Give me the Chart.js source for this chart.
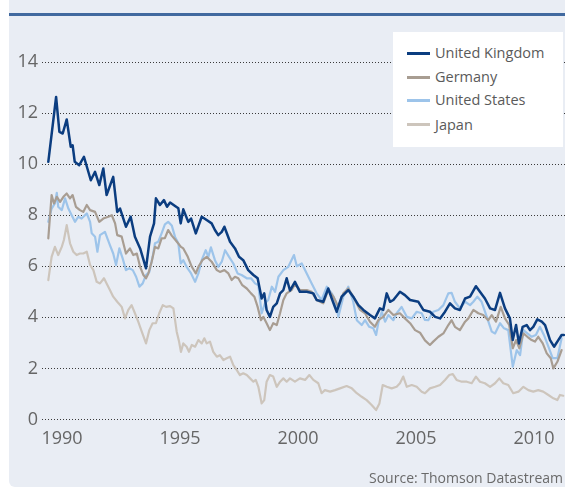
<!DOCTYPE html>
<html><head><meta charset="utf-8">
<script src="https://cdn.jsdelivr.net/npm/chart.js@4.4.0/dist/chart.umd.min.js"></script>
<style>
html,body{margin:0;padding:0;background:#fff;}
#wrap{position:relative;width:565px;height:488px;overflow:hidden;font-family:'Open Sans',sans-serif;}
#panel{position:absolute;left:9px;top:0;width:556px;height:487px;background:#e9edf4;border-bottom-left-radius:6px;}
#rule{position:absolute;left:9px;top:13px;width:556px;height:3px;background:#41699f;}
#c{position:absolute;left:0;top:0;}
#legend{position:absolute;left:393px;top:32px;width:170px;height:115px;background:#fff;}
.sw{position:absolute;left:14px;width:23px;height:3px;}
.lt{position:absolute;left:42px;height:20px;line-height:20px;font-size:14.5px;color:#5a5a5a;white-space:nowrap;}
#source{position:absolute;right:2px;top:468px;font-size:14px;color:#6a6a6a;white-space:nowrap;}
</style></head>
<body>
<div id="wrap">
  <div id="panel"></div>
  <div id="rule"></div>
  <canvas id="c" width="565" height="488"></canvas>
  <div id="legend"></div>
  <div id="source">Source: Thomson Datastream</div>
</div>
<script>
const seriesNames = ['United Kingdom','Germany','United States','Japan'];
const seriesColors = ['#0b3d80','#a89d92','#9dc4ea','#cdc5bc'];
const yTicks = [0,2,4,6,8,10,12,14];
const xTicks = [1990,1995,2000,2005,2010];

const ukSeries = [[1989.42,10.09],[1989.75,12.63],[1989.89,11.26],[1990.03,11.2],[1990.20,11.75],[1990.37,10.68],[1990.45,10.74],[1990.54,10.09],[1990.73,9.96],[1990.93,10.29],[1991.22,9.37],[1991.40,9.7],[1991.58,9.18],[1991.75,9.83],[1991.89,8.79],[1992.17,9.5],[1992.34,8.13],[1992.46,8.26],[1992.71,7.55],[1992.91,7.94],[1993.09,7.16],[1993.31,6.7],[1993.56,5.92],[1993.73,7.16],[1993.90,7.68],[1993.98,8.66],[1994.15,8.4],[1994.32,8.59],[1994.45,8.33],[1994.58,8.5],[1994.79,8.36],[1994.93,8.27],[1995.03,7.68],[1995.14,8.23],[1995.35,7.74],[1995.47,7.87],[1995.67,7.29],[1995.92,7.94],[1996.13,7.81],[1996.34,7.68],[1996.48,7.42],[1996.62,7.22],[1996.77,7.35],[1996.88,7.55],[1997.12,6.96],[1997.33,6.7],[1997.50,6.37],[1997.68,6.24],[1997.89,5.85],[1998.11,5.66],[1998.29,5.53],[1998.46,4.74],[1998.57,4.94],[1998.67,4.29],[1998.81,4.02],[1998.95,4.41],[1999.10,4.55],[1999.24,4.94],[1999.38,5.07],[1999.52,5.53],[1999.66,5.05],[1999.87,5.39],[2000.08,5.0],[2000.37,5.0],[2000.65,4.94],[2000.79,4.68],[2001.07,4.61],[2001.28,5.13],[2001.43,4.74],[2001.64,4.22],[2001.85,4.81],[2002.13,5.07],[2002.34,4.81],[2002.56,4.48],[2002.77,4.29],[2003.05,4.09],[2003.26,3.96],[2003.47,4.35],[2003.61,4.29],[2003.76,4.94],[2003.90,4.61],[2004.04,4.68],[2004.32,5.0],[2004.53,4.87],[2004.75,4.68],[2005.10,4.61],[2005.31,4.29],[2005.59,4.22],[2005.81,4.02],[2006.02,3.96],[2006.23,4.22],[2006.44,4.55],[2006.65,4.35],[2006.86,4.29],[2007.08,4.74],[2007.29,4.81],[2007.54,5.22],[2007.71,5.0],[2007.92,4.74],[2008.14,4.35],[2008.35,4.29],[2008.56,4.96],[2008.77,4.35],[2008.98,3.96],[2009.10,3.11],[2009.24,3.7],[2009.36,2.98],[2009.52,3.63],[2009.69,3.7],[2009.83,3.5],[2009.97,3.63],[2010.14,3.92],[2010.33,3.83],[2010.47,3.7],[2010.68,3.11],[2010.85,2.85],[2011.03,3.11],[2011.17,3.31],[2011.27,3.31]];

const germanySeries = [[1989.42,7.09],[1989.56,8.79],[1989.66,8.46],[1989.78,8.72],[1989.92,8.52],[1990.06,8.72],[1990.20,8.85],[1990.34,8.66],[1990.45,8.79],[1990.59,8.33],[1990.76,8.2],[1990.90,8.13],[1991.05,8.4],[1991.19,8.2],[1991.40,8.13],[1991.58,7.74],[1991.75,7.87],[1991.96,7.94],[1992.11,8.0],[1992.25,7.68],[1992.34,7.22],[1992.53,7.16],[1992.71,6.5],[1992.88,6.7],[1993.02,6.44],[1993.17,6.5],[1993.31,5.98],[1993.45,5.66],[1993.56,5.53],[1993.66,5.72],[1993.80,6.18],[1993.94,6.76],[1994.08,6.7],[1994.22,7.09],[1994.36,7.1],[1994.50,7.42],[1994.65,7.2],[1994.79,7.05],[1995.04,6.76],[1995.14,6.7],[1995.33,6.37],[1995.50,5.98],[1995.67,5.72],[1995.78,5.98],[1995.95,6.24],[1996.13,6.37],[1996.34,6.18],[1996.56,5.85],[1996.69,5.78],[1996.88,5.85],[1997.05,5.72],[1997.19,5.46],[1997.33,5.59],[1997.47,5.53],[1997.64,5.26],[1997.83,5.13],[1998.01,4.94],[1998.15,4.81],[1998.29,4.41],[1998.43,3.89],[1998.53,4.02],[1998.67,3.77],[1998.81,3.5],[1998.95,3.77],[1999.10,3.7],[1999.24,4.16],[1999.38,4.68],[1999.52,4.94],[1999.73,5.07],[1999.87,5.3],[2000.08,5.07],[2000.37,5.07],[2000.58,5.0],[2000.79,4.68],[2001.07,4.55],[2001.28,5.07],[2001.50,4.81],[2001.71,4.41],[2001.92,4.94],[2002.13,5.13],[2002.34,4.81],[2002.63,4.29],[2002.84,4.16],[2003.05,3.83],[2003.26,3.63],[2003.40,3.89],[2003.61,4.02],[2003.83,4.29],[2004.04,4.09],[2004.32,4.16],[2004.53,3.96],[2004.75,3.77],[2004.96,3.5],[2005.17,3.4],[2005.38,3.1],[2005.59,2.92],[2005.73,3.05],[2005.95,3.24],[2006.16,3.37],[2006.37,3.7],[2006.51,3.89],[2006.65,3.63],[2006.86,3.5],[2007.08,3.83],[2007.22,3.96],[2007.43,4.29],[2007.64,4.16],[2007.85,4.09],[2008.06,3.89],[2008.21,4.09],[2008.39,3.83],[2008.59,4.41],[2008.77,3.96],[2008.95,3.7],[2009.10,2.79],[2009.24,3.11],[2009.38,2.79],[2009.55,3.37],[2009.72,3.24],[2009.90,3.11],[2010.04,3.05],[2010.18,3.24],[2010.37,2.98],[2010.54,2.59],[2010.71,2.4],[2010.82,2.0],[2010.99,2.26],[2011.17,2.72]];

const usSeries = [[1989.42,7.74],[1989.56,8.26],[1989.70,8.46],[1989.78,8.88],[1989.84,8.33],[1989.99,8.2],[1990.13,8.66],[1990.27,8.26],[1990.41,8.0],[1990.55,7.74],[1990.69,7.94],[1990.83,7.87],[1991.05,8.07],[1991.19,7.74],[1991.26,7.29],[1991.40,7.16],[1991.50,6.57],[1991.61,7.22],[1991.82,7.35],[1992.03,6.83],[1992.17,6.5],[1992.29,6.05],[1992.43,6.7],[1992.57,6.31],[1992.71,5.85],[1992.85,5.92],[1993.00,5.85],[1993.14,5.59],[1993.28,5.2],[1993.42,5.33],[1993.56,5.66],[1993.70,5.78],[1993.84,6.37],[1993.94,6.9],[1994.08,6.96],[1994.22,7.29],[1994.36,7.64],[1994.50,7.74],[1994.65,7.6],[1994.79,7.15],[1994.93,6.9],[1995.03,6.11],[1995.14,6.24],[1995.28,5.98],[1995.47,5.72],[1995.64,5.39],[1995.78,5.72],[1995.92,6.24],[1996.09,6.63],[1996.20,6.37],[1996.31,6.74],[1996.48,6.24],[1996.62,5.98],[1996.77,6.18],[1996.91,6.63],[1997.08,6.37],[1997.26,6.11],[1997.44,5.72],[1997.61,5.66],[1997.83,5.53],[1998.01,5.53],[1998.18,5.33],[1998.32,5.26],[1998.46,4.16],[1998.60,4.55],[1998.74,4.68],[1998.89,5.2],[1999.03,5.0],[1999.17,5.59],[1999.38,5.85],[1999.59,5.98],[1999.83,6.44],[1999.95,6.0],[2000.16,6.11],[2000.37,5.72],[2000.58,5.33],[2000.79,4.94],[2001.00,4.68],[2001.22,5.2],[2001.43,4.94],[2001.57,4.68],[2001.71,4.02],[2001.92,4.81],[2002.13,5.2],[2002.34,4.61],[2002.49,3.89],[2002.70,3.7],[2002.84,3.89],[2003.02,3.63],[2003.19,3.57],[2003.31,3.31],[2003.40,3.77],[2003.55,4.22],[2003.69,3.83],[2003.83,4.09],[2004.04,3.89],[2004.18,4.16],[2004.39,4.41],[2004.61,4.02],[2004.82,3.96],[2005.03,4.22],[2005.24,4.16],[2005.38,3.9],[2005.52,3.89],[2005.73,4.22],[2005.95,4.29],[2006.16,4.48],[2006.37,4.94],[2006.51,4.96],[2006.65,4.61],[2006.86,4.35],[2007.08,4.61],[2007.29,4.48],[2007.43,4.61],[2007.60,4.81],[2007.78,4.61],[2008.00,4.02],[2008.21,3.44],[2008.35,3.37],[2008.56,3.77],[2008.73,3.57],[2008.91,3.5],[2009.10,2.07],[2009.27,2.72],[2009.41,2.52],[2009.55,3.5],[2009.72,3.37],[2009.90,3.24],[2010.08,3.31],[2010.25,3.63],[2010.42,3.31],[2010.61,2.85],[2010.79,2.4],[2010.99,2.4],[2011.17,3.18]];

const japanSeries = [[1989.42,5.46],[1989.56,6.37],[1989.70,6.76],[1989.84,6.44],[1989.99,6.76],[1990.08,7.03],[1990.20,7.61],[1990.34,6.9],[1990.48,6.57],[1990.62,6.44],[1990.76,6.5],[1990.90,6.5],[1991.05,6.57],[1991.19,6.05],[1991.33,5.85],[1991.47,5.39],[1991.61,5.33],[1991.78,5.53],[1991.89,5.33],[1992.03,5.07],[1992.17,4.81],[1992.34,4.61],[1992.53,4.41],[1992.67,3.96],[1992.81,4.29],[1992.95,4.48],[1993.09,4.16],[1993.23,3.83],[1993.38,3.44],[1993.56,2.98],[1993.70,3.5],[1993.84,3.77],[1993.98,3.77],[1994.12,4.16],[1994.27,4.48],[1994.41,4.41],[1994.58,4.44],[1994.72,4.35],[1994.86,3.44],[1994.96,3.05],[1995.04,2.65],[1995.14,2.98],[1995.28,2.85],[1995.38,2.65],[1995.50,2.92],[1995.64,2.85],[1995.78,3.11],[1995.92,2.98],[1996.03,3.18],[1996.13,2.98],[1996.27,3.05],[1996.41,2.65],[1996.56,2.46],[1996.69,2.52],[1996.84,2.33],[1996.98,2.4],[1997.12,2.46],[1997.26,2.13],[1997.40,1.94],[1997.54,1.74],[1997.68,1.81],[1997.83,1.74],[1997.97,1.61],[1998.11,1.48],[1998.21,1.55],[1998.32,1.28],[1998.46,0.63],[1998.57,0.76],[1998.67,1.48],[1998.81,1.74],[1998.95,1.68],[1999.10,1.28],[1999.24,1.48],[1999.38,1.61],[1999.52,1.48],[1999.66,1.61],[1999.87,1.48],[2000.08,1.61],[2000.30,1.55],[2000.48,1.74],[2000.65,1.55],[2000.86,1.42],[2001.00,1.03],[2001.14,1.15],[2001.36,1.09],[2001.57,1.15],[2001.78,1.22],[2002.06,1.31],[2002.28,1.22],[2002.49,1.03],[2002.70,0.89],[2002.91,0.76],[2003.12,0.57],[2003.31,0.37],[2003.45,0.63],[2003.59,1.35],[2003.76,1.28],[2003.97,1.22],[2004.18,1.28],[2004.32,1.42],[2004.46,1.68],[2004.61,1.28],[2004.82,1.35],[2005.03,1.28],[2005.24,1.09],[2005.38,1.03],[2005.59,1.22],[2005.81,1.28],[2006.02,1.35],[2006.23,1.55],[2006.41,1.74],[2006.56,1.78],[2006.72,1.55],[2006.94,1.48],[2007.15,1.48],[2007.36,1.42],[2007.54,1.68],[2007.71,1.48],[2007.92,1.42],[2008.14,1.28],[2008.35,1.42],[2008.53,1.61],[2008.70,1.42],[2008.91,1.35],[2009.12,1.03],[2009.34,1.09],[2009.55,1.28],[2009.76,1.15],[2009.97,1.09],[2010.18,1.15],[2010.39,1.09],[2010.61,0.96],[2010.82,0.83],[2010.99,0.76],[2011.10,0.96],[2011.24,0.93]];

const allSeries = [ukSeries, germanySeries, usSeries, japanSeries];
const lineWidths = [2.5, 2.2, 2.2, 2.2];

// legend
const lg = document.getElementById('legend');
const centers = [21, 45, 68, 92.5];
seriesNames.forEach((n, i) => {
  const s = document.createElement('div'); s.className = 'sw';
  s.style.top = (centers[i] - 1.5) + 'px'; s.style.background = seriesColors[i];
  const t = document.createElement('div'); t.className = 'lt';
  t.style.top = (centers[i] - 10) + 'px'; t.textContent = n;
  lg.appendChild(s); lg.appendChild(t);
});

const font = { family: "'Open Sans', sans-serif", size: 18 };
new Chart(document.getElementById('c'), {
  type: 'line',
  data: {
    datasets: allSeries.map((s, i) => ({
      label: seriesNames[i],
      data: s.map(p => ({ x: p[0], y: p[1] })),
      borderColor: seriesColors[i],
      borderWidth: lineWidths[i],
      pointRadius: 0,
      tension: 0,
      fill: false
    }))
  },
  options: {
    responsive: false,
    animation: false,
    events: [],
    layout: { padding: { top: 62, right: 0, bottom: 0, left: 0 } },
    plugins: { legend: { display: false }, tooltip: { enabled: false } },
    elements: { line: { borderJoinStyle: 'round', borderCapStyle: 'round' } },
    scales: {
      x: {
        type: 'linear', min: 1989.1525, max: 2011.3136,
        afterBuildTicks: a => { a.ticks = xTicks.map(v => ({ value: v })); },
        afterFit: a => { a.height = 68.5; },
        grid: { display: false, drawTicks: false },
        border: { display: false },
        ticks: { padding: 9, color: '#666', font: font, maxRotation: 0, autoSkip: false, callback: v => String(v) }
      },
      y: {
        min: 0, max: 14,
        afterBuildTicks: a => { a.ticks = yTicks.map(v => ({ value: v })); },
        afterFit: a => { a.width = 42; },
        grid: { color: '#3a3a3a', lineWidth: 1, drawTicks: false },
        border: { display: false, dash: [1, 2] },
        ticks: { padding: 4, color: '#666', font: font, callback: v => String(v) }
      }
    }
  }
});
</script>
</body></html>
